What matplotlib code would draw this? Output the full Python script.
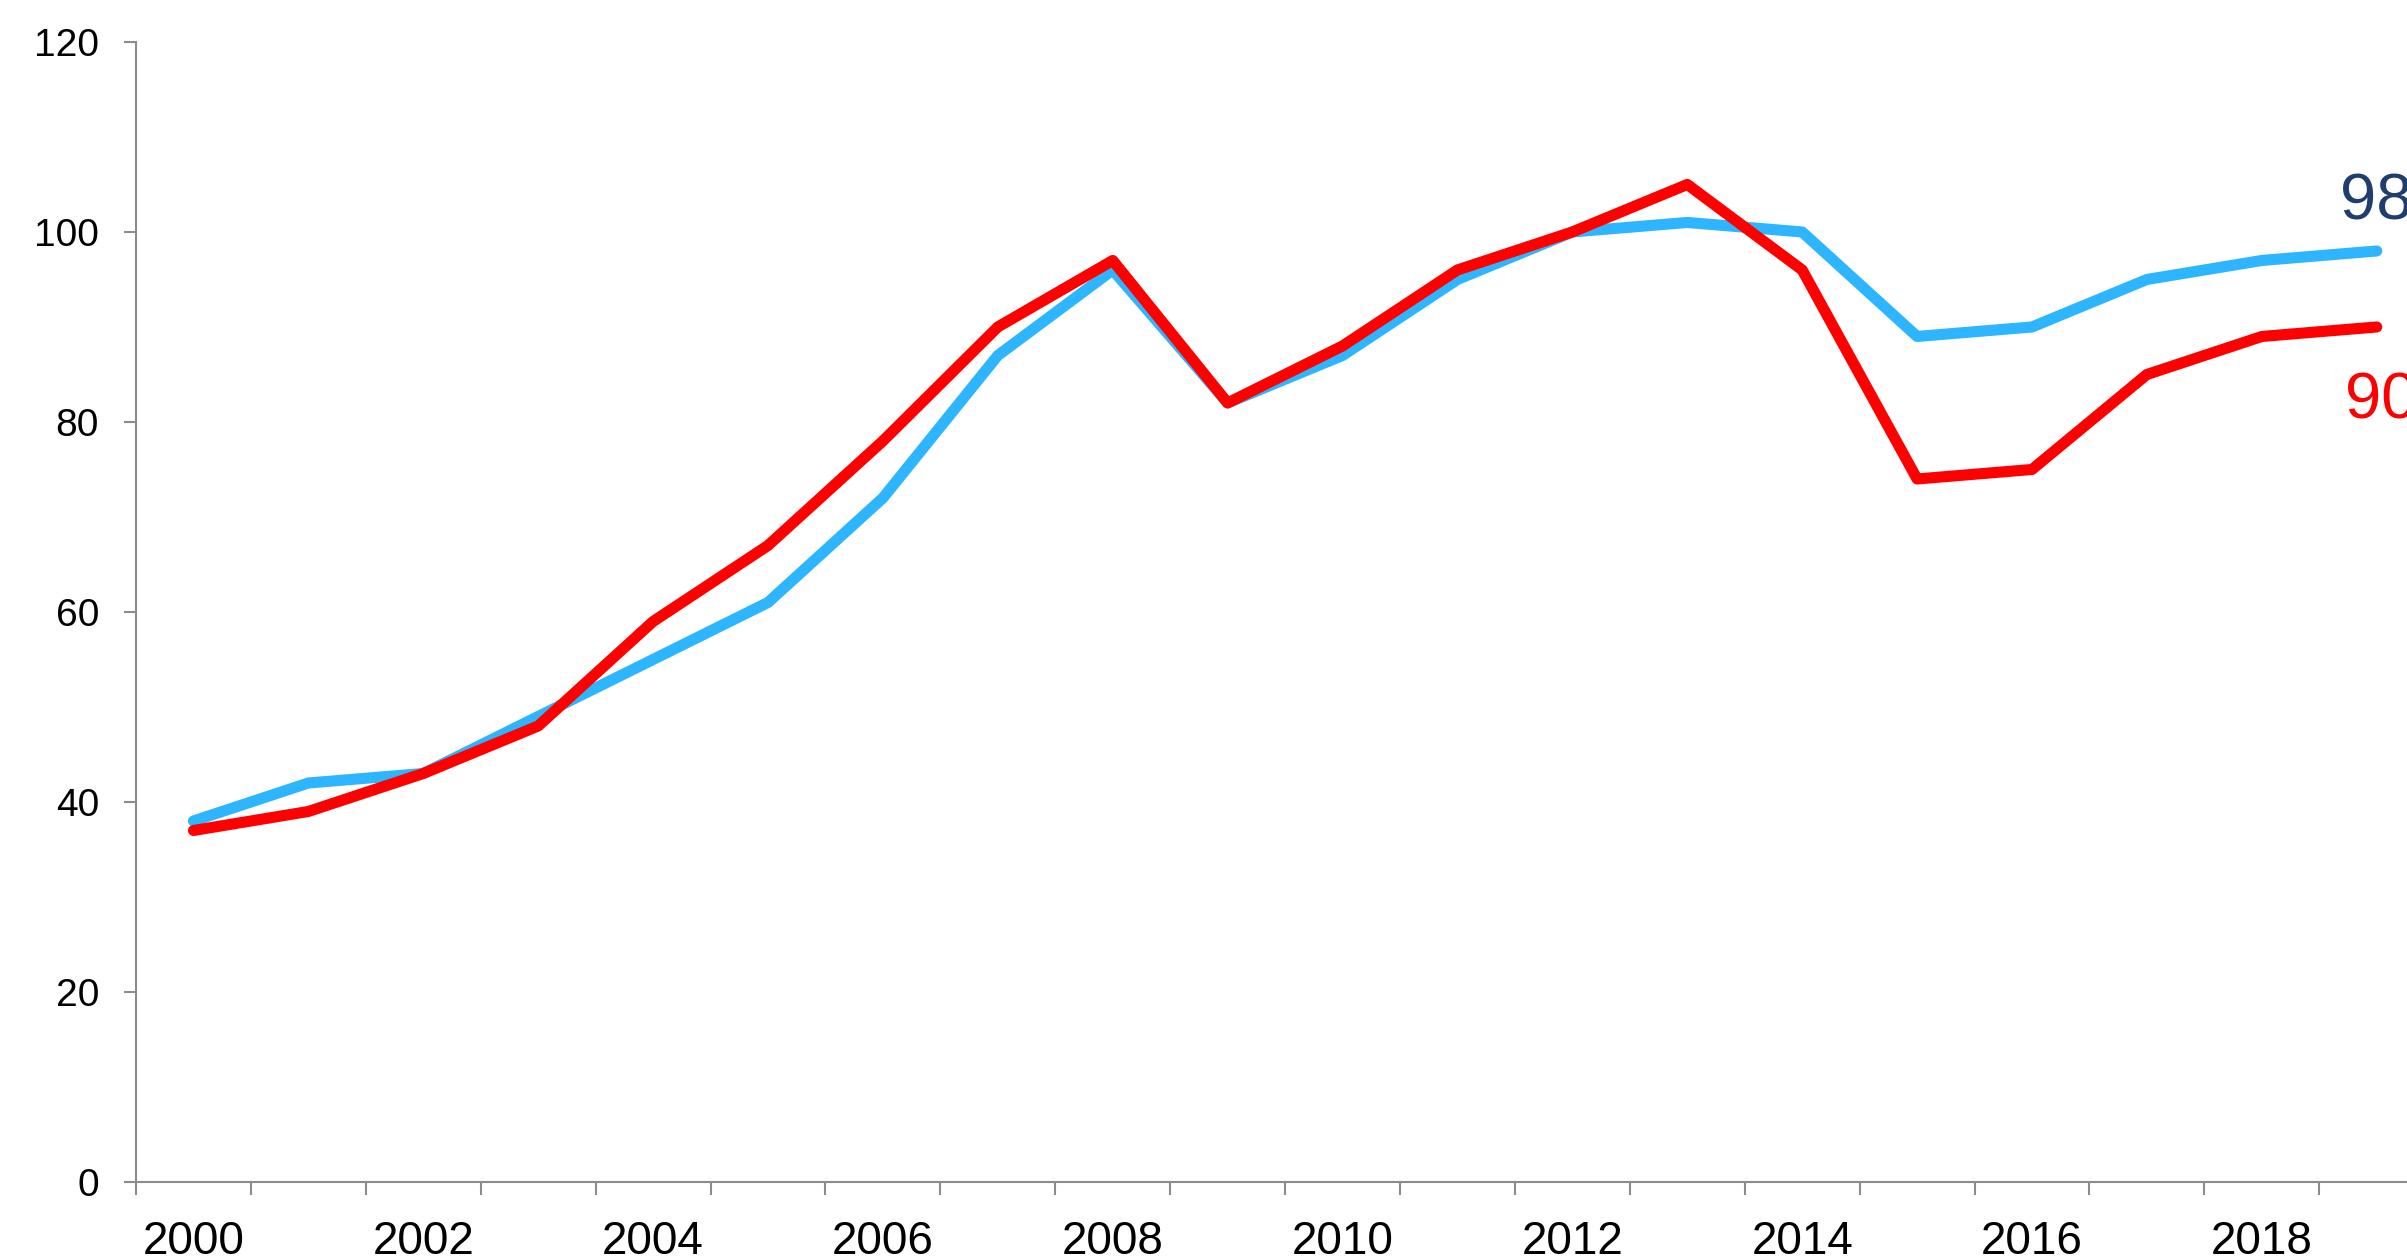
import numpy as np
import matplotlib
matplotlib.use("Agg")
import matplotlib.pyplot as plt
from matplotlib.ticker import FixedLocator

plt.rcParams['font.family'] = ['Liberation Sans', 'DejaVu Sans']

years = np.arange(2000, 2020)
blue_vals = [38, 42, 43, 49, 55, 61, 72, 87, 96, 82,
             87, 95, 100, 101, 100, 89, 90, 95, 97, 98]
red_vals = [37, 39, 43, 48, 59, 67, 78, 90, 97, 82,
            88, 96, 100, 105, 96, 74, 75, 85, 89, 90]
year_labels = [str(y) for y in range(2000, 2020, 2)]
y_ticks = [0, 20, 40, 60, 80, 100, 120]

BLUE = '#2DB5FF'
RED = '#FF0000'
AXIS_GRAY = '#8C8C8C'

fig = plt.figure(figsize=(24.07, 12.60), dpi=100)
# axes run slightly past the right edge, like the cropped original
ax = fig.add_axes([0.0565, 0.0619, 0.9548, 0.9048])

ax.plot(years, blue_vals, color=BLUE, lw=8,
        solid_capstyle='round', solid_joinstyle='round', zorder=3)
ax.plot(years, red_vals, color=RED, lw=8,
        solid_capstyle='round', solid_joinstyle='round', zorder=4)

ax.text(2018.68, 101.3, str(blue_vals[-1]), color='#1F3E6E',
        fontsize=47, ha='left', va='baseline')
ax.text(2018.72, 80.4, str(red_vals[-1]), color=RED,
        fontsize=47, ha='left', va='baseline')

ax.set_xlim(1999.5, 2019.5)
ax.set_ylim(0, 120)

# category-style axis: ticks between years, labels centred on years
ax.xaxis.set_major_locator(FixedLocator(range(2000, 2020, 2)))
ax.set_xticklabels(year_labels)
ax.xaxis.set_minor_locator(FixedLocator(np.arange(1999.5, 2020, 1)))
ax.tick_params(axis='x', which='major', length=0, pad=27, labelsize=33)
ax.tick_params(axis='x', which='minor', length=9.4, width=1.5,
               color=AXIS_GRAY, direction='out')

ax.set_yticks(y_ticks)
ax.tick_params(axis='y', length=8.6, width=1.5, color=AXIS_GRAY,
               pad=18, labelsize=28)

for side in ['top', 'right']:
    ax.spines[side].set_visible(False)
for side in ['left', 'bottom']:
    ax.spines[side].set_color(AXIS_GRAY)
    ax.spines[side].set_linewidth(1.5)

fig.savefig('out.png', dpi=100)
